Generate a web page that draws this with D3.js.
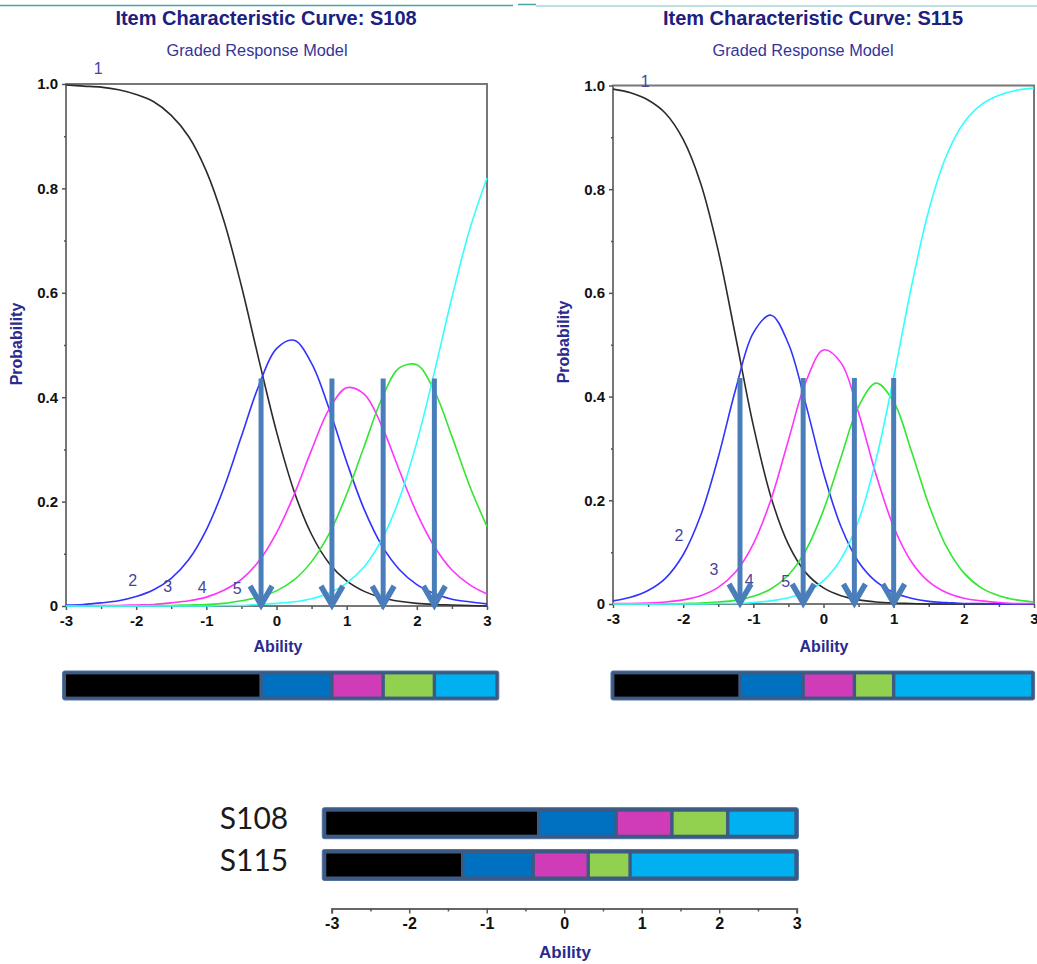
<!DOCTYPE html>
<html>
<head>
<meta charset="utf-8">
<script src="https://cdn.jsdelivr.net/npm/d3@7"></script>
<style>
	body { margin: 0; background: #ffffff; }
	svg { display: block; }
	.tick text { font-family: "Liberation Sans", Arial, sans-serif; font-weight: bold; fill: #111111; }
</style>
</head>
<body>
<svg id="chart" width="1037" height="964"></svg>
<script>

// ability grid the curves were read at
const ability = [-3, -2.75, -2.5, -2.25, -2, -1.75, -1.5, -1.25, -1, -0.75, -0.5, -0.25, 0,
	0.25, 0.5, 0.75, 1, 1.25, 1.5, 1.75, 2, 2.25, 2.5, 2.75, 3];

// S108 category curves (probability)
const s108Cat1 = [0.998, 0.996, 0.994, 0.989, 0.980, 0.966, 0.940, 0.899, 0.833, 0.738, 0.613, 0.471, 0.334,
	0.220, 0.137, 0.082, 0.048, 0.028, 0.016, 0.009, 0.005, 0.003, 0.002, 0.001, 0.000];
const s108Cat2 = [0.002, 0.003, 0.006, 0.010, 0.018, 0.031, 0.053, 0.089, 0.146, 0.226, 0.325, 0.423, 0.493,
	0.509, 0.465, 0.378, 0.276, 0.185, 0.116, 0.070, 0.041, 0.024, 0.013, 0.008, 0.004];
const s108Cat3 = [0.000, 0.000, 0.001, 0.001, 0.002, 0.003, 0.006, 0.010, 0.017, 0.030, 0.051, 0.086, 0.140,
	0.213, 0.299, 0.377, 0.418, 0.406, 0.345, 0.260, 0.178, 0.114, 0.069, 0.041, 0.023];
const s108Cat4 = [0.000, 0.000, 0.000, 0.000, 0.000, 0.001, 0.001, 0.002, 0.003, 0.005, 0.010, 0.017, 0.029,
	0.050, 0.085, 0.138, 0.214, 0.306, 0.397, 0.456, 0.462, 0.412, 0.325, 0.231, 0.152];
const s108Cat5 = [0.000, 0.000, 0.000, 0.000, 0.000, 0.000, 0.000, 0.000, 0.000, 0.001, 0.001, 0.003, 0.005,
	0.008, 0.014, 0.025, 0.044, 0.075, 0.127, 0.205, 0.314, 0.448, 0.591, 0.720, 0.820];

// S115 category curves
const s115Cat1 = [0.993, 0.986, 0.972, 0.946, 0.896, 0.811, 0.681, 0.514, 0.344, 0.207, 0.115, 0.060, 0.031,
	0.016, 0.008, 0.004, 0.002, 0.001, 0.000, 0.000, 0.000, 0.000, 0.000, 0.000, 0.000];
const s115Cat2 = [0.006, 0.013, 0.026, 0.050, 0.095, 0.171, 0.283, 0.415, 0.523, 0.557, 0.502, 0.384, 0.253,
	0.149, 0.081, 0.043, 0.022, 0.011, 0.005, 0.003, 0.001, 0.001, 0.000, 0.000, 0.000];
const s115Cat3 = [0.001, 0.001, 0.002, 0.004, 0.008, 0.016, 0.032, 0.062, 0.116, 0.201, 0.316, 0.429, 0.490,
	0.465, 0.369, 0.249, 0.149, 0.082, 0.043, 0.022, 0.011, 0.006, 0.003, 0.001, 0.001];
const s115Cat4 = [0.000, 0.000, 0.000, 0.000, 0.001, 0.002, 0.004, 0.007, 0.015, 0.029, 0.056, 0.104, 0.181,
	0.283, 0.381, 0.426, 0.390, 0.296, 0.192, 0.111, 0.060, 0.031, 0.016, 0.008, 0.004];
const s115Cat5 = [0.000, 0.000, 0.000, 0.000, 0.000, 0.000, 0.001, 0.001, 0.003, 0.006, 0.012, 0.023, 0.045,
	0.087, 0.161, 0.279, 0.437, 0.610, 0.759, 0.864, 0.928, 0.963, 0.981, 0.991, 0.995];

// arrows / band cut points on the ability scale
const s108Cuts = [-0.22, 0.79, 1.52, 2.25];
const s115Cuts = [-1.19, -0.29, 0.44, 1.00];
const s108BandRange = [-3, 3.12];
const s115BandRange = [-2.98, 2.96];
const arrowTop = 0.436;

// summary bars at the bottom
const summaryItems = ['S108', 'S115'];
const summaryCuts108 = [-0.33, 0.67, 1.39, 2.11];
const summaryCuts115 = [-1.31, -0.40, 0.31, 0.85];
const summaryRange = [-3.07, 2.97];

// curve labels: [label, ability, probability]
const s108Labels = [['1', -2.54, 1.03], ['2', -2.05, 0.05], ['3', -1.55, 0.037], ['4', -1.06, 0.035], ['5', -0.56, 0.034]];
const s115Labels = [['1', -2.54, 1.008], ['2', -2.06, 0.133], ['3', -1.56, 0.066], ['4', -1.06, 0.046], ['5', -0.54, 0.043]];

const xTicks = [-3, -2, -1, 0, 1, 2, 3];
const xMinor = [-2.5, -1.5, -0.5, 0.5, 1.5, 2.5];
const yTicks = [0, 0.2, 0.4, 0.6, 0.8, 1.0];
const yTickLabels = ['0', '0.2', '0.4', '0.6', '0.8', '1.0'];
const yMinor = [0.1, 0.3, 0.5, 0.7, 0.9];

const curveColors = ['#2b2b2b', '#3232ff', '#ff33ff', '#33e633', '#33ffff'];
const bandColors = ['#000000', '#0070c0', '#d03cb8', '#92d050', '#00b0f0'];

const font = '"Liberation Sans", Arial, sans-serif';
const svg = d3.select('#chart');

// thin header rules at the very top
svg.append('line').attr('x1', 0).attr('x2', 513).attr('y1', 5.5).attr('y2', 5.5)
	.attr('stroke', '#4aa3a3').attr('stroke-width', 1.5);
svg.append('line').attr('x1', 518).attr('x2', 536).attr('y1', 4.5).attr('y2', 4.5)
	.attr('stroke', '#4aa3a3').attr('stroke-width', 1.5);
svg.append('line').attr('x1', 536).attr('x2', 1037).attr('y1', 6).attr('y2', 6)
	.attr('stroke', '#a8d5d5').attr('stroke-width', 1.5);

function drawBand(g, xs, cuts, range, top, h, pad, gap)
{
	g.append('rect')
		.attr('x', xs(range[0]) - pad)
		.attr('y', top)
		.attr('width', xs(range[1]) - xs(range[0]) + 2 * pad)
		.attr('height', h)
		.attr('rx', 2)
		.attr('fill', '#3c5a82')
		.attr('stroke', '#4f72a0')
		.attr('stroke-width', 1);

	let edges = [range[0]].concat(cuts, [range[1]]);

	for(let i = 0; i < 5; i++)
	{
		let a = xs(edges[i]) + (i > 0 ? gap / 2 : 0);
		let b = xs(edges[i + 1]) - (i < 4 ? gap / 2 : 0);
		g.append('rect')
			.attr('x', a)
			.attr('y', top + pad)
			.attr('width', b - a)
			.attr('height', h - 2 * pad)
			.attr('fill', bandColors[i]);
	}
}

function drawIcc(o)
{
	let x = d3.scaleLinear().domain([-3, 3]).range([o.x0, o.x1]);
	let y = d3.scaleLinear().domain([0, 1]).range([o.y0, o.y1]);

	let g = svg.append('g');

	g.append('text')
		.attr('x', o.titleX).attr('y', 25)
		.attr('text-anchor', 'middle')
		.style('font-family', font).style('font-weight', 'bold').style('font-size', '20px')
		.attr('fill', '#1d2080')
		.text('Item Characteristic Curve: ' + o.name);

	g.append('text')
		.attr('x', o.subX).attr('y', 56)
		.attr('text-anchor', 'middle')
		.style('font-family', font).style('font-size', '16.3px')
		.attr('fill', '#34349a')
		.text('Graded Response Model');

	// frame
	g.append('rect')
		.attr('x', x(-3)).attr('y', y(1))
		.attr('width', x(3) - x(-3)).attr('height', y(0) - y(1))
		.attr('fill', 'none')
		.attr('stroke', '#777777')
		.attr('stroke-width', 2);

	// axes
	let xAxis = g.append('g')
		.attr('transform', `translate(0, ${y(0)})`)
		.call(d3.axisBottom(x).tickValues(xTicks).tickSize(4).tickPadding(5).tickFormat(d => String(d)));
	xAxis.select('.domain').remove();
	xAxis.selectAll('.tick line').attr('stroke', '#555555').attr('stroke-width', 1.5);
	xAxis.selectAll('.tick text').style('font-size', '15px');

	let xAxisMinor = g.append('g')
		.attr('transform', `translate(0, ${y(0)})`)
		.call(d3.axisBottom(x).tickValues(xMinor).tickSize(3).tickFormat(''));
	xAxisMinor.select('.domain').remove();
	xAxisMinor.selectAll('.tick line').attr('stroke', '#555555').attr('stroke-width', 1.5);

	let yAxis = g.append('g')
		.attr('transform', `translate(${x(-3)}, 0)`)
		.call(d3.axisLeft(y).tickValues(yTicks).tickSize(4).tickPadding(4).tickFormat((d, i) => yTickLabels[i]));
	yAxis.select('.domain').remove();
	yAxis.selectAll('.tick line').attr('stroke', '#555555').attr('stroke-width', 1.5);
	yAxis.selectAll('.tick text').style('font-size', '15px');

	let yAxisMinor = g.append('g')
		.attr('transform', `translate(${x(-3)}, 0)`)
		.call(d3.axisLeft(y).tickValues(yMinor).tickSize(2).tickFormat(''));
	yAxisMinor.select('.domain').remove();
	yAxisMinor.selectAll('.tick line').attr('stroke', '#555555').attr('stroke-width', 1.5);

	g.append('text')
		.attr('transform', `translate(${o.probX}, ${o.probY}) rotate(-90)`)
		.attr('text-anchor', 'middle')
		.attr('dy', '0.35em')
		.style('font-family', font).style('font-weight', 'bold').style('font-size', '16px')
		.attr('fill', '#2a2a8f')
		.text('Probability');

	g.append('text')
		.attr('x', o.abilityX).attr('y', 652)
		.attr('text-anchor', 'middle')
		.style('font-family', font).style('font-weight', 'bold').style('font-size', '16px')
		.attr('fill', '#2a2a8f')
		.text('Ability');

	// curves
	let line = d3.line()
		.x((d, i) => x(ability[i]))
		.y(d => y(d))
		.curve(d3.curveCatmullRom.alpha(0.5));

	g.selectAll('path.icc')
		.data(o.curves)
		.enter()
		.append('path')
		.attr('class', 'icc')
		.attr('d', d => line(d))
		.attr('fill', 'none')
		.attr('stroke', (d, i) => curveColors[i])
		.attr('stroke-width', 1.6);

	// curve labels
	g.selectAll('text.lab')
		.data(o.labels)
		.enter()
		.append('text')
		.attr('class', 'lab')
		.attr('x', d => x(d[1]))
		.attr('y', d => y(d[2]))
		.attr('dy', '0.35em')
		.attr('text-anchor', 'middle')
		.style('font-family', font).style('font-size', '16px')
		.attr('fill', '#45459a')
		.text(d => d[0]);

	// arrows at the category boundaries
	let arrowColor = '#4a7ebb';
	let arrows = g.selectAll('g.arrow')
		.data(o.cuts)
		.enter()
		.append('g')
		.attr('class', 'arrow');

	arrows.append('line')
		.attr('x1', d => x(d)).attr('x2', d => x(d))
		.attr('y1', y(arrowTop)).attr('y2', y(0) - 3)
		.attr('stroke', arrowColor)
		.attr('stroke-width', 5);

	arrows.append('path')
		.attr('d', d => `M${x(d) - 11},${y(0) - 20} L${x(d)},${y(0) - 1} L${x(d) + 11},${y(0) - 20}`)
		.attr('fill', 'none')
		.attr('stroke', arrowColor)
		.attr('stroke-width', 5.5)
		.attr('stroke-linejoin', 'miter');

	drawBand(g, x, o.cuts, o.bandRange, 671, 29, 3.4, 3.4);
}

drawIcc({
	name: 'S108', x0: 66, x1: 487, y0: 606, y1: 84,
	titleX: 266, subX: 257, probX: 16, probY: 344, abilityX: 278,
	curves: [s108Cat1, s108Cat2, s108Cat3, s108Cat4, s108Cat5],
	cuts: s108Cuts, bandRange: s108BandRange, labels: s108Labels
});

drawIcc({
	name: 'S115', x0: 613, x1: 1034, y0: 604, y1: 85.5,
	titleX: 813, subX: 803, probX: 563, probY: 342, abilityX: 824,
	curves: [s115Cat1, s115Cat2, s115Cat3, s115Cat4, s115Cat5],
	cuts: s115Cuts, bandRange: s115BandRange, labels: s115Labels
});

// summary section
let sx = d3.scaleLinear().domain([-3, 3]).range([331.7, 796.7]);
let summary = svg.append('g');
let summaryCuts = [summaryCuts108, summaryCuts115];
let summaryTop = [807.7, 849.5];

for(let i = 0; i < summaryItems.length; i++)
{
	summary.append('text')
		.attr('x', 254).attr('y', summaryTop[i] + 21)
		.attr('text-anchor', 'middle')
		.style('font-family', 'Lato, "Open Sans", sans-serif').style('font-size', '30px')
		.attr('fill', '#1a1a1a')
		.text(summaryItems[i]);

	drawBand(summary, sx, summaryCuts[i], summaryRange, summaryTop[i], 31, 4, 3.4);
}

let sAxis = summary.append('g')
	.attr('transform', 'translate(0, 908.5)')
	.call(d3.axisBottom(sx).tickValues(xTicks).tickSize(5).tickPadding(4).tickFormat(d => String(d)));
sAxis.select('.domain').attr('stroke', '#666666').attr('stroke-width', 2);
sAxis.selectAll('.tick line').attr('stroke', '#555555').attr('stroke-width', 1.5);
sAxis.selectAll('.tick text').style('font-size', '16px');

let sAxisMinor = summary.append('g')
	.attr('transform', 'translate(0, 908.5)')
	.call(d3.axisBottom(sx).tickValues(xMinor).tickSize(3).tickFormat(''));
sAxisMinor.select('.domain').remove();
sAxisMinor.selectAll('.tick line').attr('stroke', '#555555').attr('stroke-width', 1.5);

summary.append('text')
	.attr('x', 565).attr('y', 958)
	.attr('text-anchor', 'middle')
	.style('font-family', font).style('font-weight', 'bold').style('font-size', '17px')
	.attr('fill', '#2a2a8f')
	.text('Ability');

</script>
</body>
</html>
